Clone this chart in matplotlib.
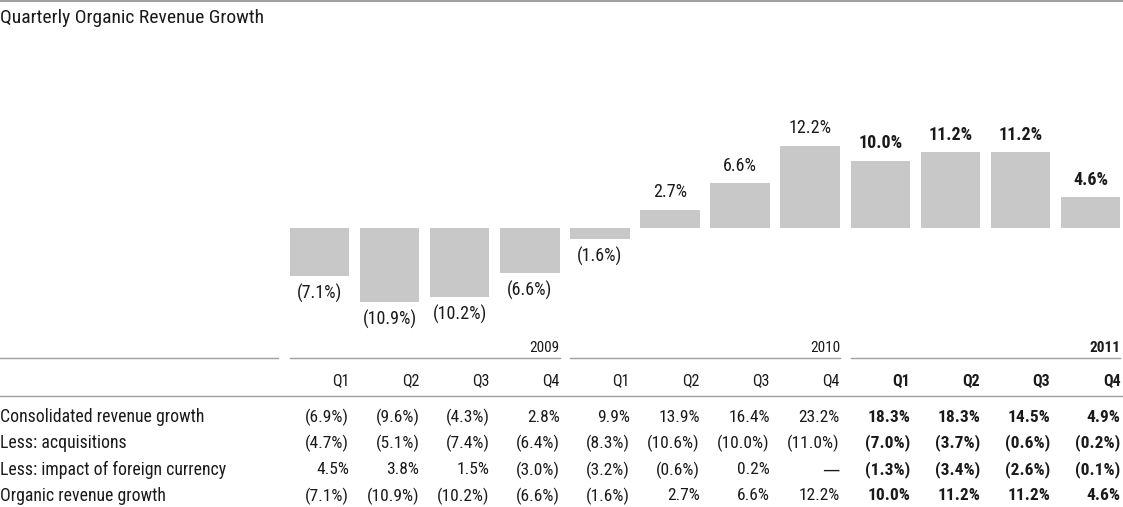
import matplotlib.pyplot as plt
from matplotlib.transforms import blended_transform_factory

# condensed face close to the original report typography
plt.rcParams["font.family"] = ["Roboto Condensed", "DejaVu Sans"]

### DATA ###
years = ["2009", "2010", "2011"]
quarters = ["Q1", "Q2", "Q3", "Q4"] * 3
organic = [-7.1, -10.9, -10.2, -6.6, -1.6, 2.7, 6.6, 12.2, 10.0, 11.2, 11.2, 4.6]
row_names = [
    "Consolidated revenue growth",
    "Less: acquisitions",
    "Less: impact of foreign currency",
    "Organic revenue growth",
]
consolidated = ["(6.9%)", "(9.6%)", "(4.3%)", "2.8%", "9.9%", "13.9%", "16.4%", "23.2%",
                "18.3%", "18.3%", "14.5%", "4.9%"]
acquisitions = ["(4.7%)", "(5.1%)", "(7.4%)", "(6.4%)", "(8.3%)", "(10.6%)", "(10.0%)", "(11.0%)",
                "(7.0%)", "(3.7%)", "(0.6%)", "(0.2%)"]
currency = ["4.5%", "3.8%", "1.5%", "(3.0%)", "(3.2%)", "(0.6%)", "0.2%", "\u2014",
            "(1.3%)", "(3.4%)", "(2.6%)", "(0.1%)"]
organic_txt = ["(7.1%)", "(10.9%)", "(10.2%)", "(6.6%)", "(1.6%)", "2.7%", "6.6%", "12.2%",
               "10.0%", "11.2%", "11.2%", "4.6%"]
bold_from = 8  # 2011 columns shown in bold

W, H = 1123, 507
BAR_COLOR = "#c8c8c8"
LINE_COLOR = "#a0a0a0"
TEXT = "#1a1a1a"

fig = plt.figure(figsize=(W / 100, H / 100), dpi=100)
ax = fig.add_axes([0, 0, 1, 1])

pitch = 70.1
x0 = 319.5
ppu = 6.75  # pixels per percent
zero_from_bottom = H - 228
ax.set_xlim(-x0 / pitch, (W - x0) / pitch)
ax.set_ylim(-zero_from_bottom / ppu, (H - zero_from_bottom) / ppu)
ax.axis("off")

width = 0.85
xs = list(range(len(organic)))
ax.bar(xs, organic, width=width, color=BAR_COLOR, edgecolor="none")

for i, v in enumerate(organic):
    w = "bold" if i >= bold_from else "normal"
    if v >= 0:
        ax.annotate(organic_txt[i], (i, v), xytext=(0, 6), textcoords="offset points",
                    ha="center", va="bottom", fontsize=13, color=TEXT, fontweight=w)
    else:
        ax.annotate(organic_txt[i], (i, v), xytext=(0, -6), textcoords="offset points",
                    ha="center", va="top", fontsize=13, color=TEXT, fontweight=w)


def fy(y):
    return 1 - y / H


tr = blended_transform_factory(ax.transData, fig.transFigure)

# top rule and title
fig.add_artist(plt.Line2D([0, 1], [fy(0.8), fy(0.8)], color="#909090", lw=1.2))
fig.text(0, fy(18), "Quarterly Organic Revenue Growth", fontsize=14, color=TEXT,
         ha="left", va="center")

# year header and segment lines
fig.add_artist(plt.Line2D([0, 278 / W], [fy(358), fy(358)], color=LINE_COLOR, lw=1))
for k, yr in enumerate(years):
    left = 4 * k - width / 2
    right = 4 * k + 3 + width / 2
    w = "bold" if 4 * k >= bold_from else "normal"
    ax.add_line(plt.Line2D([left, right], [fy(358), fy(358)], transform=tr,
                           color=LINE_COLOR, lw=1))
    ax.text(right, fy(348), yr, transform=tr, ha="right", va="center",
            fontsize=11, color=TEXT, fontweight=w)

for i, q in enumerate(quarters):
    w = "bold" if i >= bold_from else "normal"
    ax.text(i + width / 2, fy(381), q, transform=tr, ha="right", va="center",
            fontsize=11.5, color=TEXT, fontweight=w)

fig.add_artist(plt.Line2D([0, 1], [fy(396), fy(396)], color=LINE_COLOR, lw=1))

rows = [consolidated, acquisitions, currency, organic_txt]
row_y = [417, 443, 470, 496]
for name, vals, y in zip(row_names, rows, row_y):
    fig.text(0, fy(y), name, fontsize=12.8, color=TEXT, ha="left", va="center")
    for i, s in enumerate(vals):
        w = "bold" if i >= bold_from else "normal"
        # the long dash reads better in DejaVu
        fam = ["DejaVu Sans"] if s == "\u2014" else None
        ax.text(i + width / 2, fy(y), s, transform=tr, ha="right", va="center",
                fontsize=12.5, color=TEXT, fontweight=w, family=fam)

fig.savefig("out.png", dpi=100)
